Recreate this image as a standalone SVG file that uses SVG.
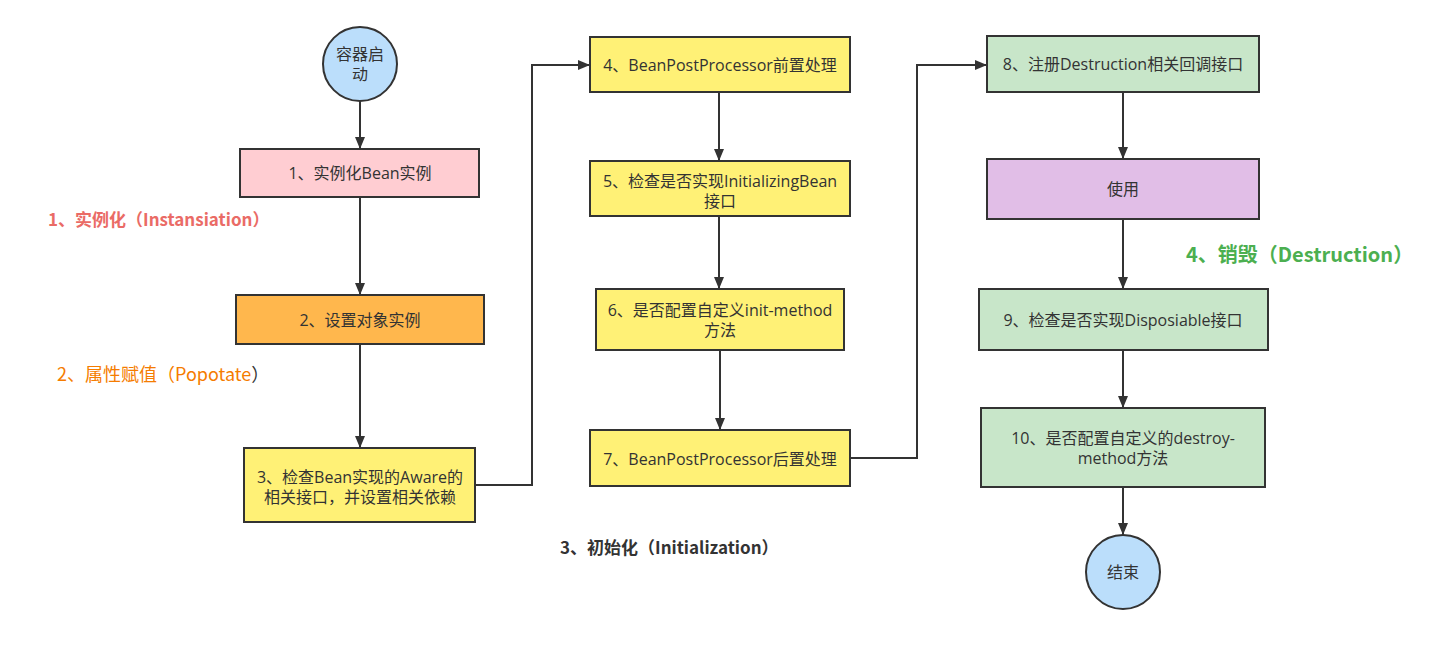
<svg xmlns="http://www.w3.org/2000/svg" width="1438" height="670" viewBox="0 0 1438 670">
<style>
.n{stroke:#333;stroke-width:2}
.t{font-family:"Open Sans","Noto Sans CJK SC",sans-serif;font-size:16px;fill:#333;text-anchor:middle}
.c{fill:none;stroke:#333;stroke-width:2}
.lb{font-family:"Noto Sans CJK SC","Liberation Sans",sans-serif;font-weight:bold}
</style>
<defs>
<marker id="ah" viewBox="0 0 12 10" refX="12" refY="5" markerWidth="12" markerHeight="10" markerUnits="userSpaceOnUse" orient="auto">
<path d="M0,0 L12,5 L0,10 Z" fill="#333"/>
</marker>
</defs>
<rect width="1438" height="670" fill="#fff"/>
<g id="connectors">
<line class="c" x1="360" y1="101" x2="360" y2="149" marker-end="url(#ah)"/>
<line class="c" x1="360" y1="197" x2="360" y2="295" marker-end="url(#ah)"/>
<line class="c" x1="360" y1="344" x2="360" y2="448" marker-end="url(#ah)"/>
<polyline class="c" points="475,485 532,485 532,65 590,65" marker-end="url(#ah)"/>
<line class="c" x1="719" y1="92" x2="719" y2="161" marker-end="url(#ah)"/>
<line class="c" x1="719" y1="216" x2="719" y2="289" marker-end="url(#ah)"/>
<line class="c" x1="720" y1="350" x2="720" y2="430" marker-end="url(#ah)"/>
<polyline class="c" points="850,458 917,458 917,65 987,65" marker-end="url(#ah)"/>
<line class="c" x1="1123" y1="92" x2="1123" y2="159" marker-end="url(#ah)"/>
<line class="c" x1="1123" y1="219" x2="1123" y2="289" marker-end="url(#ah)"/>
<line class="c" x1="1123" y1="350" x2="1123" y2="408" marker-end="url(#ah)"/>
<line class="c" x1="1123" y1="487" x2="1123" y2="535" marker-end="url(#ah)"/>
</g>
<g id="start">
<circle class="n" cx="360" cy="64" r="37" fill="#bbdefb"/>
<text class="t" x="360" y="60">容器启</text>
<text class="t" x="360" y="80">动</text>
</g>
<g id="n1">
<rect class="n" x="240" y="149" width="239" height="48" fill="#ffcdd2"/>
<text class="t" x="360" y="179">1、实例化Bean实例</text>
</g>
<g id="n2">
<rect class="n" x="236" y="295" width="248" height="49" fill="#ffb74d"/>
<text class="t" x="360" y="326">2、设置对象实例</text>
</g>
<g id="n3">
<rect class="n" x="244" y="448" width="231" height="74" fill="#fff176"/>
<text class="t" x="360" y="483">3、检查Bean实现的Aware的</text>
<text class="t" x="360" y="503">相关接口，并设置相关依赖</text>
</g>
<g id="n4">
<rect class="n" x="590" y="37" width="260" height="55" fill="#fff176"/>
<text class="t" x="720" y="71">4、BeanPostProcessor前置处理</text>
</g>
<g id="n5">
<rect class="n" x="590" y="161" width="260" height="55" fill="#fff176"/>
<text class="t" x="720" y="187">5、检查是否实现InitializingBean</text>
<text class="t" x="720" y="207">接口</text>
</g>
<g id="n6">
<rect class="n" x="596" y="289" width="248" height="61" fill="#fff176"/>
<text class="t" x="720" y="316">6、是否配置自定义init-method</text>
<text class="t" x="720" y="336">方法</text>
</g>
<g id="n7">
<rect class="n" x="590" y="430" width="260" height="56" fill="#fff176"/>
<text class="t" x="720" y="465">7、BeanPostProcessor后置处理</text>
</g>
<g id="n8">
<rect class="n" x="987" y="36" width="272" height="56" fill="#c8e6c9"/>
<text class="t" x="1123" y="70">8、注册Destruction相关回调接口</text>
</g>
<g id="use">
<rect class="n" x="987" y="159" width="272" height="60" fill="#e1bee7"/>
<text class="t" x="1123" y="195">使用</text>
</g>
<g id="n9">
<rect class="n" x="979" y="289" width="289" height="61" fill="#c8e6c9"/>
<text class="t" x="1123" y="326">9、检查是否实现Disposiable接口</text>
</g>
<g id="n10">
<rect class="n" x="981" y="408" width="284" height="79" fill="#c8e6c9"/>
<text class="t" x="1123" y="444">10、是否配置自定义的destroy-</text>
<text class="t" x="1123" y="464">method方法</text>
</g>
<g id="end">
<circle class="n" cx="1123" cy="572" r="37" fill="#bbdefb"/>
<text class="t" x="1123" y="578">结束</text>
</g>
<g id="labels">
<text class="lb" x="48" y="226" font-size="17" fill="#ea6b66">1、实例化（Instansiation）</text>
<text x="57" y="381" font-family="'Noto Sans CJK SC','Liberation Sans',sans-serif" font-size="18" fill="#f57c00">2、属性赋值（Popotate<tspan fill="#333">）</tspan></text>
<text class="lb" x="560" y="554" font-size="17" fill="#333">3、初始化（Initialization）</text>
<text class="lb" x="1186" y="262" font-size="20" fill="#4caf50">4、销毁（Destruction）</text>
</g>
</svg>
